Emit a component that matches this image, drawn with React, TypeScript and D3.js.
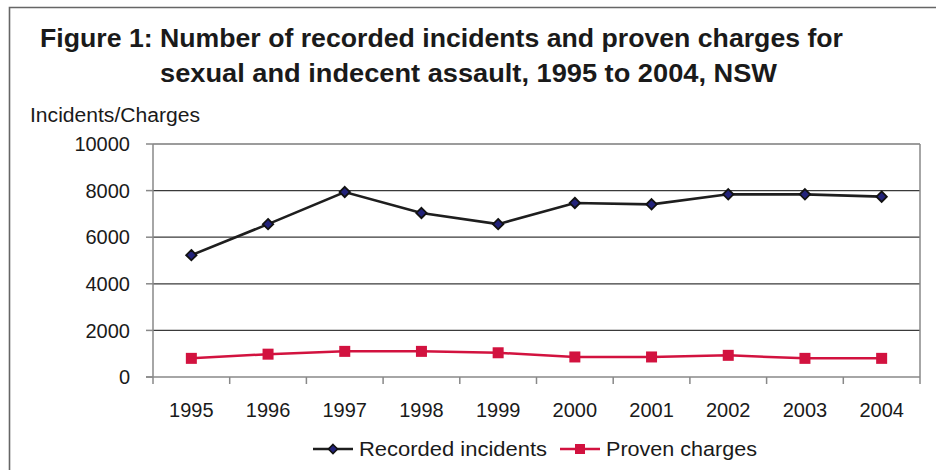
import React from "react";
import * as d3 from "d3";

const years = ["1995", "1996", "1997", "1998", "1999", "2000", "2001", "2002", "2003", "2004"];
const recordedIncidents = [5230, 6560, 7940, 7040, 6560, 7470, 7410, 7840, 7840, 7740];
const provenCharges = [800, 980, 1100, 1100, 1040, 860, 860, 930, 800, 800];
const yTicks = [0, 2000, 4000, 6000, 8000, 10000];
const titleLines = [
  "Figure 1: Number of recorded incidents and proven charges for",
  "sexual and indecent assault, 1995 to 2004, NSW",
];
const yAxisTitle = "Incidents/Charges";
const seriesNames = ["Recorded incidents", "Proven charges"];

const W = 936;
const H = 470;
const M = { left: 153, right: 920, top: 144, bottom: 377 };
const FONT = "'Liberation Sans', Arial, Helvetica, sans-serif";
const BLACK_LINE = "#1e1e1e";
const RED = "#d2123f";
const GRID = "#3a3a3a";
const AXIS = "#888888";

export default function App() {
  const x = d3.scaleBand<string>().domain(years).range([M.left, M.right]).padding(0);
  const y = d3.scaleLinear().domain([0, 10000]).range([M.bottom, M.top]);
  const cx = (d: string) => (x(d) as number) + x.bandwidth() / 2;

  const line = d3
    .line<number>()
    .x((_, i) => cx(years[i]))
    .y((v) => y(v));

  const diamond = (px: number, py: number, r = 5.2) =>
    `M${px},${py - r}L${px + r},${py}L${px},${py + r}L${px - r},${py}Z`;

  const boundaries = years.map((d) => x(d) as number).concat([M.right]);

  return (
    <svg
      width={W}
      height={H}
      style={{ position: "absolute", left: 0, top: 0, background: "#fff" }}
      fontFamily={FONT}
    >
      {/* outer frame */}
      <path d={`M9.5,${H + 2}V7.5H${W + 2}`} fill="none" stroke="#666" strokeWidth={1.6} />

      {/* title */}
      <text x={40} y={47} fontSize={26} fontWeight="bold" fill="#1a1a1a" textLength={803} lengthAdjust="spacingAndGlyphs">
        {titleLines[0]}
      </text>
      <text x={160} y={82} fontSize={26} fontWeight="bold" fill="#1a1a1a" textLength={617} lengthAdjust="spacingAndGlyphs">
        {titleLines[1]}
      </text>

      {/* y axis title */}
      <text x={30} y={122} fontSize={19.5} fill="#1a1a1a" textLength={170} lengthAdjust="spacingAndGlyphs">
        {yAxisTitle}
      </text>

      {/* gridlines */}
      {yTicks.filter((t) => t > 0).map((t) => (
        <line key={t} x1={M.left} x2={M.right} y1={y(t)} y2={y(t)} stroke={GRID} strokeWidth={1.2} />
      ))}

      {/* plot right border */}
      <line x1={M.right} x2={M.right} y1={M.top} y2={M.bottom} stroke={AXIS} strokeWidth={1.5} />

      {/* y axis */}
      <line x1={M.left} x2={M.left} y1={M.top} y2={M.bottom} stroke={AXIS} strokeWidth={1.5} />
      {yTicks.map((t) => (
        <g key={t}>
          <line x1={M.left - 7} x2={M.left} y1={y(t)} y2={y(t)} stroke={AXIS} strokeWidth={1.5} />
          <text x={130} y={y(t)} dy="0.36em" textAnchor="end" fontSize={20} fill="#1a1a1a">
            {t}
          </text>
        </g>
      ))}

      {/* x axis */}
      <line x1={M.left - 7} x2={M.right} y1={M.bottom} y2={M.bottom} stroke={AXIS} strokeWidth={1.5} />
      {boundaries.map((b, i) => (
        <line key={i} x1={b} x2={b} y1={M.bottom} y2={M.bottom + 7} stroke={AXIS} strokeWidth={1.5} />
      ))}
      {years.map((d) => (
        <text key={d} x={cx(d)} y={417} textAnchor="middle" fontSize={20} fill="#1a1a1a">
          {d}
        </text>
      ))}

      {/* proven charges */}
      <path d={line(provenCharges) || ""} fill="none" stroke={RED} strokeWidth={2.5} />
      {provenCharges.map((v, i) => (
        <rect key={i} x={cx(years[i]) - 5.5} y={y(v) - 5.5} width={11} height={11} fill={RED} />
      ))}

      {/* recorded incidents */}
      <path d={line(recordedIncidents) || ""} fill="none" stroke={BLACK_LINE} strokeWidth={2.6} />
      {recordedIncidents.map((v, i) => (
        <path key={i} d={diamond(cx(years[i]), y(v))} fill="#22227a" stroke="#111" strokeWidth={1.8} />
      ))}

      {/* legend */}
      <line x1={313} x2={353} y1={449} y2={449} stroke={BLACK_LINE} strokeWidth={2.6} />
      <path d={diamond(333, 449, 4.5)} fill="#22227a" stroke="#111" strokeWidth={1.6} />
      <text x={359} y={456} fontSize={20.5} fill="#1a1a1a" textLength={188} lengthAdjust="spacingAndGlyphs">
        {seriesNames[0]}
      </text>
      <line x1={560} x2={600} y1={449} y2={449} stroke={RED} strokeWidth={2.5} />
      <rect x={575} y={444} width={10} height={10} fill={RED} />
      <text x={606} y={456} fontSize={20.5} fill="#1a1a1a" textLength={151} lengthAdjust="spacingAndGlyphs">
        {seriesNames[1]}
      </text>
    </svg>
  );
}
